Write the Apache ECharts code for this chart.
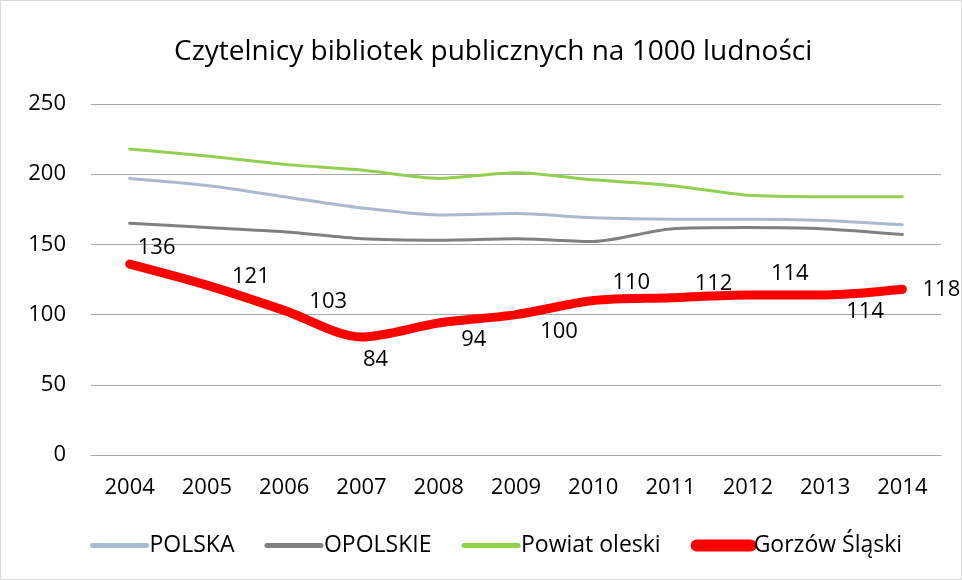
<!DOCTYPE html>
<html>
<head>
<meta charset="utf-8">
<title>Czytelnicy bibliotek publicznych</title>
<script src="https://cdn.jsdelivr.net/npm/echarts@6/dist/echarts.min.js"></script>
<style>
  html, body { margin: 0; padding: 0; background: #fff; }
  #chart { width: 960px; height: 578px; border: 1px solid #d9d9d9; }
</style>
</head>
<body>
<div id="chart"></div>
<script>
// dane
const years = ['2004', '2005', '2006', '2007', '2008', '2009', '2010', '2011', '2012', '2013', '2014']
const polska = [197, 192, 184, 176, 171, 172, 169, 168, 168, 167, 164]
const opolskie = [165, 162, 159, 154, 153, 154, 152, 161, 162, 161, 157]
const powiatOleski = [218, 213, 207, 203, 197, 201, 196, 192, 185, 184, 184]
const gorzow = [136, 121, 103, 84, 94, 100, 110, 112, 114, 114, 118]

// przesunięcia etykiet danych (jak w oryginale z Excela)
const labelOffsets = [
  [27, -16], [44, -8], [44, -9], [14, 23], [35, 17], [43, 17],
  [38, -18], [43, -14], [42, -21], [40, 17], [39, 0]
]

const font = '"Open Sans", "Noto Sans", sans-serif'

const chart = echarts.init(document.getElementById('chart'))

const option = {
  animation: false,
  title: {
    text: 'Czytelnicy bibliotek publicznych na 1000 ludności',
    left: 168,
    top: 32,
    textStyle: { fontFamily: font, fontSize: 28, fontWeight: 'normal', color: '#000' }
  },
  grid: { left: 90, right: 20, top: 103, bottom: 124 },
  legend: {
    bottom: 17,
    left: 84,
    itemWidth: 54,
    itemHeight: 14,
    itemGap: 30,
    itemStyle: { opacity: 0 },
    textStyle: { fontFamily: font, fontSize: 23, color: '#000', padding: [0, 0, 0, -2] },
    data: [
      { name: 'POLSKA', lineStyle: { width: 5 } },
      { name: 'OPOLSKIE', lineStyle: { width: 5 } },
      { name: 'Powiat oleski', lineStyle: { width: 5 } },
      { name: 'Gorzów Śląski', lineStyle: { width: 12 } }
    ]
  },
  xAxis: {
    type: 'category',
    data: years,
    axisLine: { lineStyle: { color: '#a6a6a6', width: 1 } },
    axisTick: { show: false },
    axisLabel: { fontFamily: font, fontSize: 22, color: '#000', margin: 22 }
  },
  yAxis: {
    type: 'value',
    min: 0,
    max: 250,
    interval: 50,
    axisLine: { show: false },
    axisTick: { show: false },
    splitLine: { lineStyle: { color: '#a6a6a6', width: 1 } },
    axisLabel: { fontFamily: font, fontSize: 22, color: '#000', margin: 25 }
  },
  series: [
    {
      name: 'POLSKA',
      type: 'line',
      data: polska,
      smooth: 0.25,
      symbol: 'none',
      itemStyle: { color: '#abb9cf' },
      lineStyle: { color: '#abb9cf', width: 3, cap: 'round' }
    },
    {
      name: 'OPOLSKIE',
      type: 'line',
      data: opolskie,
      smooth: 0.25,
      symbol: 'none',
      itemStyle: { color: '#808080' },
      lineStyle: { color: '#808080', width: 3, cap: 'round' }
    },
    {
      name: 'Powiat oleski',
      type: 'line',
      data: powiatOleski,
      smooth: 0.25,
      symbol: 'none',
      itemStyle: { color: '#92d050' },
      lineStyle: { color: '#92d050', width: 3, cap: 'round' }
    },
    {
      name: 'Gorzów Śląski',
      type: 'line',
      smooth: 0.3,
      symbol: 'circle',
      symbolSize: 1,
      showAllSymbol: true,
      itemStyle: { color: '#ff0000' },
      lineStyle: { color: '#ff0000', width: 9, cap: 'round', join: 'round' },
      data: gorzow.map((v, i) => ({
        value: v,
        label: {
          show: true,
          position: 'inside',
          offset: labelOffsets[i],
          fontFamily: font,
          fontSize: 22,
          color: '#000'
        }
      }))
    }
  ]
}

chart.setOption(option)
</script>
</body>
</html>
